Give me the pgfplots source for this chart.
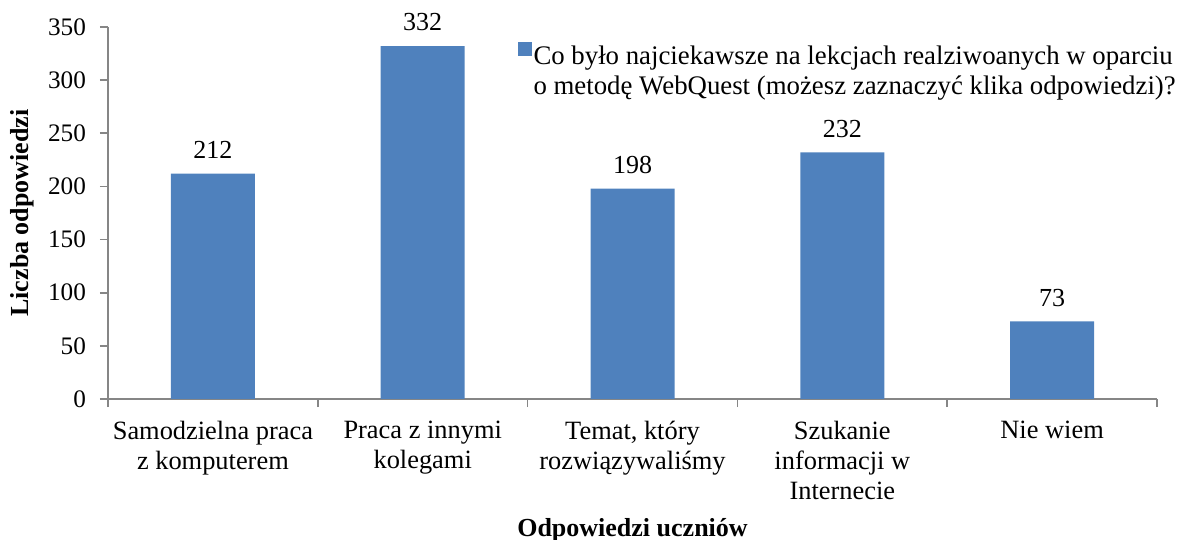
\documentclass[border=0pt]{standalone}
\usepackage{pgfplots}
\pgfplotsset{compat=1.18}
\usepackage{fontspec}
\setmainfont{Liberation Serif}
\definecolor{barblue}{HTML}{4F81BD}
\definecolor{axgray}{HTML}{868686}
\begin{document}
\begin{tikzpicture}
\useasboundingbox (-54pt,-70.5pt) rectangle (538pt,199.5pt);
\begin{axis}[
    width=524.5pt, height=186pt, scale only axis,
    xmin=-0.5, xmax=4.5, ymin=0, ymax=350,
    ytick={0,50,...,350},
    xtick={0,1,2,3,4},
    xticklabels={Samodzielna praca\\z komputerem, Praca z innymi\\kolegami, {Temat, który\\rozwiązywaliśmy}, Szukanie\\informacji w\\Internecie, Nie wiem},
    minor xtick={-0.5,0.5,...,4.5},
    axis x line*=bottom, axis y line*=left,
    axis line style={axgray, line width=0.8pt, -},
    tick align=outside,
    major x tick style={draw=none},
    minor tick length=4pt, major tick length=4pt,
    every tick/.style={axgray, line width=0.8pt},
    font=\fontsize{13}{15}\selectfont,
    /pgf/number format/assume math mode=true,
    xticklabel style={align=center, font=\fontsize{13.2}{15}\selectfont, yshift=-3.5pt},
    yticklabel style={font=\fontsize{12.6}{15}\selectfont, xshift=-3.5pt},
    xlabel={\textbf{Odpowiedzi uczniów}},
    ylabel={\textbf{Liczba odpowiedzi}},
    xlabel style={at={(axis description cs:0.5,0)}, anchor=base, yshift=-68.5pt},
    ylabel style={at={(axis description cs:-0.082,0.5)}, anchor=center},
    ybar, bar width=42pt,
    nodes near coords,
    nodes near coords style={font=\fontsize{13}{15}\selectfont, yshift=4pt},
    legend style={at={(axis description cs:0.390,0.962)}, anchor=north west, draw=none, inner sep=0pt,
        font=\fontsize{13.4}{15}\selectfont, column sep=0pt, nodes={inner xsep=1pt}},
    legend image code/.code={\fill[barblue] (0pt,0pt) rectangle (7pt,7pt);},
]
\addplot[fill=barblue, draw=none] coordinates {(0,212) (1,332) (2,198) (3,232) (4,73)};
\addlegendentry{\parbox[t]{335pt}{\raggedright Co było najciekawsze na lekcjach realziwoanych w oparciu\\o metodę WebQuest (możesz zaznaczyć klika odpowiedzi)?}}
\end{axis}
\end{tikzpicture}
\end{document}
